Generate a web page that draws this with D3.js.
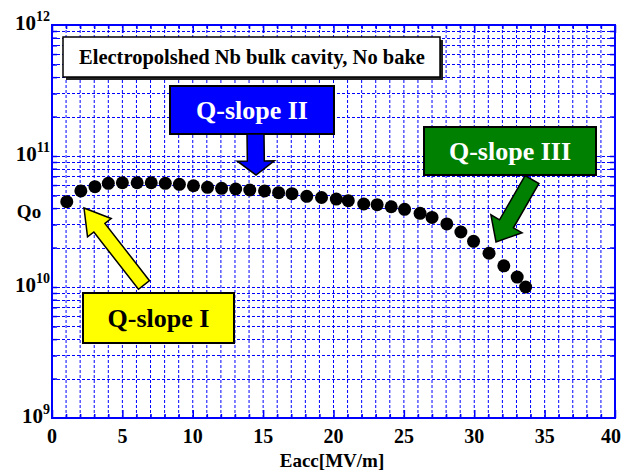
<!DOCTYPE html>
<html>
<head>
<meta charset="utf-8">
<script src="https://cdn.jsdelivr.net/npm/d3@7"></script>
<style>
  html, body { margin: 0; padding: 0; background: #fff; }
  svg { display: block; }
  text { font-family: "Liberation Serif", "Times New Roman", serif; font-weight: bold; }
</style>
</head>
<body>
<svg id="chart" width="623" height="473"></svg>
<script>
// Accelerating field (MV/m) and unloaded quality factor
const eacc = [1.05, 2.05, 3.05, 4.0, 5.0, 6.05, 7.05, 8.05, 9.05, 10.05, 11.05, 12.05,
  13.05, 14.05, 15.1, 16.1, 17.05, 18.1, 19.15, 20.2, 21.05, 22.15, 23.1, 24.1, 25.05,
  26.15, 27.0, 28.05, 29.05, 29.95, 31.05, 32.1, 33.05, 33.65];
const qo = [4.48e10, 5.41e10, 5.83e10, 6.19e10, 6.25e10, 6.25e10, 6.25e10, 6.19e10,
  6.08e10, 5.93e10, 5.77e10, 5.67e10, 5.6e10, 5.5e10, 5.41e10, 5.25e10, 5.16e10,
  4.92e10, 4.82e10, 4.69e10, 4.56e10, 4.3e10, 4.25e10, 4.1e10, 3.92e10, 3.65e10,
  3.4e10, 3.03e10, 2.63e10, 2.23e10, 1.81e10, 1.45e10, 1.19e10, 1.0e10];

const xTicks = [0, 5, 10, 15, 20, 25, 30, 35, 40];
const yDecades = [9, 10, 11, 12];

const xLabel = "Eacc[MV/m]";
const yLabel = "Qo";
const titleText = "Electropolshed Nb bulk cavity, No bake";

const svg = d3.select("#chart");
const pL = 52, pR = 615, pT = 25, pB = 418;

const x = d3.scaleLinear().domain([0, 40]).range([pL, pR]);
const y = d3.scaleLog().domain([1e9, 1e12]).range([pB, pT]);

const blue = "#0000ff";

// grid lines
const xGrid = d3.range(1, 40);
const yGrid = [];
for (let e = 9; e < 12; e++) {
  for (let k = 1; k <= 9; k++) {
    const v = k * Math.pow(10, e);
    if (v > 1e9) yGrid.push(v);
  }
}

const grid = svg.append("g");
grid.selectAll("line.v").data(xGrid).join("line")
  .attr("x1", d => x(d)).attr("x2", d => x(d))
  .attr("y1", pT).attr("y2", pB)
  .attr("stroke", blue).attr("stroke-width", 1)
  .attr("stroke-dasharray", "3,2");
grid.selectAll("line.h").data(yGrid).join("line")
  .attr("x1", pL).attr("x2", pR)
  .attr("y1", d => Math.round(y(d)) + 0.5).attr("y2", d => Math.round(y(d)) + 0.5)
  .attr("stroke", blue).attr("stroke-width", 1)
  .attr("stroke-dasharray", "3,2");

// axes with inward ticks
const xAxisB = d3.axisBottom(x).tickValues(d3.range(0, 41)).tickSizeOuter(0).tickFormat("");
const xAxisT = d3.axisTop(x).tickValues(d3.range(0, 41)).tickSizeOuter(0).tickFormat("");
const yAxisL = d3.axisLeft(y).tickValues(yGrid).tickSizeInner(-5).tickSizeOuter(0).tickFormat("");
const yAxisR = d3.axisRight(y).tickValues(yGrid).tickSizeInner(-5).tickSizeOuter(0).tickFormat("");

function styleAxis(g) {
  g.selectAll("line").attr("stroke", blue).attr("stroke-width", 1.5);
  g.select(".domain").remove();
}
svg.append("g").attr("transform", `translate(0,${pB})`).call(xAxisB).call(styleAxis)
  .selectAll(".tick line").attr("y2", d => d % 5 === 0 ? -8 : -4);
svg.append("g").attr("transform", `translate(0,${pT})`).call(xAxisT).call(styleAxis)
  .selectAll(".tick line").attr("y2", d => d % 5 === 0 ? 8 : 4);
svg.append("g").attr("transform", `translate(${pL},0)`).call(yAxisL).call(styleAxis);
svg.append("g").attr("transform", `translate(${pR},0)`).call(yAxisR).call(styleAxis);

// frame
svg.append("rect")
  .attr("x", pL).attr("y", pT)
  .attr("width", pR - pL).attr("height", pB - pT)
  .attr("fill", "none").attr("stroke", blue).attr("stroke-width", 2);

// x tick labels (last one kept inside the canvas edge)
svg.append("g").selectAll("text").data(xTicks).join("text")
  .attr("x", d => Math.min(x(d), 611)).attr("y", 443)
  .attr("text-anchor", "middle")
  .attr("font-size", 20)
  .text(d => d);

// y tick labels as powers of ten
const yl = svg.append("g").selectAll("text").data(yDecades).join("text")
  .attr("x", 50).attr("y", d => y(Math.pow(10, d)) + 5)
  .attr("text-anchor", "end")
  .attr("font-size", 21);
yl.append("tspan").text("10");
yl.append("tspan").attr("font-size", 14).attr("dy", -9).text(d => d);

// axis titles
svg.append("text").attr("x", 332).attr("y", 467)
  .attr("text-anchor", "middle").attr("font-size", 19).text(xLabel);
svg.append("text").attr("x", 29).attr("y", 218)
  .attr("text-anchor", "middle").attr("font-size", 19).text(yLabel);

// measured points
svg.append("g").selectAll("circle").data(eacc.map((e, i) => [e, qo[i]])).join("circle")
  .attr("cx", d => x(d[0])).attr("cy", d => y(d[1]))
  .attr("r", 6.5).attr("fill", "#000");

// title box with drop shadow
svg.append("rect").attr("x", 66).attr("y", 40).attr("width", 377).attr("height", 40).attr("fill", "#222");
svg.append("rect").attr("x", 63).attr("y", 37).attr("width", 377).attr("height", 40)
  .attr("fill", "#fff").attr("stroke", "#000").attr("stroke-width", 1.5);
svg.append("text").attr("x", 252).attr("y", 64).attr("text-anchor", "middle")
  .attr("font-size", 20.5).attr("fill", "#000").text(titleText);

// block arrow from tail centre to tip
function arrow(x0, y0, x1, y1, shaftW, headW, headL, fill) {
  const dx = x1 - x0, dy = y1 - y0, len = Math.hypot(dx, dy);
  const ux = dx / len, uy = dy / len, px = -uy, py = ux;
  const bx = x1 - ux * headL, by = y1 - uy * headL;
  const pts = [
    [x0 + px * shaftW / 2, y0 + py * shaftW / 2],
    [bx + px * shaftW / 2, by + py * shaftW / 2],
    [bx + px * headW / 2, by + py * headW / 2],
    [x1, y1],
    [bx - px * headW / 2, by - py * headW / 2],
    [bx - px * shaftW / 2, by - py * shaftW / 2],
    [x0 - px * shaftW / 2, y0 - py * shaftW / 2]
  ];
  svg.append("path").attr("d", d3.line()(pts) + "Z")
    .attr("fill", fill).attr("stroke", "#000").attr("stroke-width", 1.5)
    .attr("stroke-linejoin", "miter");
}

function labelBox(bx, by, w, h, fill, textFill, label) {
  svg.append("rect").attr("x", bx).attr("y", by).attr("width", w).attr("height", h)
    .attr("fill", fill).attr("stroke", "#000").attr("stroke-width", 2);
  svg.append("text").attr("x", bx + w / 2).attr("y", by + h / 2 + 9)
    .attr("text-anchor", "middle").attr("font-size", 26).attr("fill", textFill).text(label);
}

// Q-slope II
labelBox(170, 86, 164, 48, "#0000ff", "#fff", "Q-slope II");
arrow(255.5, 134, 256, 175, 17, 37, 14, "#0000ff");

// Q-slope III
labelBox(424, 127, 172, 48, "#008000", "#fff", "Q-slope III");
arrow(532, 179.5, 496, 242, 16, 36, 21, "#008000");

// Q-slope I
arrow(144, 285, 84, 208, 14, 30, 25, "#ffff00");
labelBox(83, 293, 151, 50, "#ffff00", "#000", "Q-slope I");
</script>
</body>
</html>
